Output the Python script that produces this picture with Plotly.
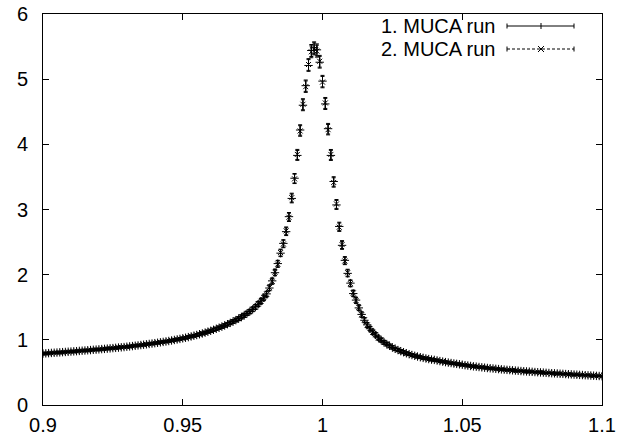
import numpy as np
import plotly.graph_objects as go

# x grid: 0.900 ... 1.100 in steps of 0.001
x_vals = np.round(np.arange(0.900, 1.1005, 0.001), 3)

y_run1 = [
    0.790, 0.793, 0.796, 0.799, 0.802, 0.805, 0.808, 0.811, 0.814, 0.817,
    0.820, 0.823, 0.826, 0.830, 0.833, 0.836, 0.840, 0.843, 0.847, 0.850,
    0.854, 0.858, 0.861, 0.865, 0.869, 0.873, 0.877, 0.881, 0.885, 0.889,
    0.894, 0.899, 0.904, 0.909, 0.914, 0.920, 0.925, 0.931, 0.937, 0.943,
    0.949, 0.955, 0.962, 0.968, 0.975, 0.982, 0.990, 0.998, 1.006, 1.014,
    1.023, 1.032, 1.042, 1.052, 1.063, 1.074, 1.086, 1.098, 1.111, 1.125,
    1.139, 1.154, 1.170, 1.186, 1.203, 1.221, 1.240, 1.260, 1.281, 1.303,
    1.326, 1.351, 1.377, 1.405, 1.435, 1.467, 1.505, 1.547, 1.594, 1.645,
    1.705, 1.795, 1.905, 2.030, 2.170, 2.330, 2.480, 2.660, 2.890, 3.170,
    3.480, 3.830, 4.220, 4.600, 4.900, 5.210, 5.440, 5.480, 5.450, 5.260,
    4.970, 4.620, 4.240, 3.830, 3.430, 3.070, 2.740, 2.450, 2.220, 2.020,
    1.870, 1.710, 1.610, 1.490, 1.390, 1.300, 1.230, 1.170, 1.120, 1.075,
    1.030, 0.995, 0.963, 0.934, 0.908, 0.884, 0.862, 0.843, 0.826, 0.810,
    0.794, 0.780, 0.767, 0.755, 0.744, 0.733, 0.723, 0.714, 0.705, 0.697,
    0.692, 0.683, 0.674, 0.666, 0.658, 0.651, 0.644, 0.637, 0.631, 0.625,
    0.618, 0.611, 0.605, 0.599, 0.593, 0.588, 0.583, 0.578, 0.573, 0.568,
    0.564, 0.560, 0.555, 0.551, 0.547, 0.543, 0.539, 0.536, 0.532, 0.528,
    0.525, 0.521, 0.518, 0.515, 0.512, 0.509, 0.506, 0.503, 0.500, 0.497,
    0.494, 0.491, 0.488, 0.486, 0.483, 0.480, 0.478, 0.475, 0.472, 0.470,
    0.467, 0.465, 0.462, 0.460, 0.457, 0.455, 0.452, 0.450, 0.447, 0.445, 0.442,
]

y_run2 = [
    0.788, 0.792, 0.795, 0.798, 0.801, 0.804, 0.807, 0.810, 0.813, 0.816,
    0.819, 0.822, 0.827, 0.829, 0.832, 0.837, 0.839, 0.844, 0.846, 0.851,
    0.853, 0.857, 0.862, 0.864, 0.870, 0.872, 0.878, 0.880, 0.886, 0.890,
    0.893, 0.900, 0.903, 0.910, 0.915, 0.919, 0.926, 0.930, 0.938, 0.942,
    0.950, 0.956, 0.961, 0.969, 0.974, 0.983, 0.989, 0.999, 1.005, 1.015,
    1.022, 1.033, 1.041, 1.053, 1.062, 1.075, 1.085, 1.099, 1.110, 1.126,
    1.138, 1.155, 1.169, 1.187, 1.202, 1.222, 1.239, 1.261, 1.280, 1.305,
    1.324, 1.353, 1.375, 1.407, 1.433, 1.469, 1.503, 1.550, 1.591, 1.649,
    1.700, 1.801, 1.898, 2.038, 2.162, 2.339, 2.471, 2.672, 2.880, 3.182,
    3.470, 3.845, 4.205, 4.615, 4.885, 5.225, 5.420, 5.465, 5.430, 5.275,
    4.955, 4.635, 4.225, 3.845, 3.415, 3.085, 2.728, 2.462, 2.210, 2.030,
    1.862, 1.718, 1.603, 1.497, 1.385, 1.306, 1.226, 1.174, 1.116, 1.079,
    1.027, 0.998, 0.960, 0.937, 0.905, 0.887, 0.859, 0.846, 0.823, 0.813,
    0.791, 0.783, 0.764, 0.758, 0.741, 0.736, 0.720, 0.717, 0.702, 0.700,
    0.689, 0.686, 0.671, 0.669, 0.655, 0.654, 0.641, 0.640, 0.628, 0.628,
    0.615, 0.614, 0.602, 0.602, 0.590, 0.591, 0.580, 0.581, 0.570, 0.571,
    0.561, 0.563, 0.552, 0.554, 0.544, 0.546, 0.536, 0.539, 0.529, 0.531,
    0.522, 0.524, 0.515, 0.518, 0.509, 0.512, 0.503, 0.506, 0.497, 0.500,
    0.491, 0.494, 0.485, 0.489, 0.480, 0.483, 0.475, 0.478, 0.469, 0.473,
    0.464, 0.468, 0.459, 0.463, 0.454, 0.458, 0.449, 0.453, 0.444, 0.448, 0.440,
]

err_run1 = [
    0.011, 0.012, 0.012, 0.011, 0.012, 0.012, 0.012, 0.011, 0.012, 0.012,
    0.012, 0.012, 0.013, 0.012, 0.012, 0.013, 0.012, 0.013, 0.013, 0.013,
    0.012, 0.013, 0.013, 0.013, 0.013, 0.014, 0.013, 0.013, 0.014, 0.014,
    0.014, 0.013, 0.014, 0.014, 0.015, 0.014, 0.015, 0.015, 0.015, 0.015,
    0.016, 0.015, 0.016, 0.016, 0.016, 0.017, 0.017, 0.017, 0.018, 0.018,
    0.018, 0.019, 0.019, 0.019, 0.020, 0.020, 0.021, 0.021, 0.022, 0.022,
    0.023, 0.023, 0.024, 0.025, 0.025, 0.026, 0.027, 0.028, 0.028, 0.029,
    0.030, 0.031, 0.032, 0.033, 0.034, 0.035, 0.036, 0.037, 0.038, 0.040,
    0.041, 0.043, 0.045, 0.047, 0.050, 0.053, 0.056, 0.060, 0.064, 0.068,
    0.072, 0.076, 0.080, 0.084, 0.087, 0.090, 0.092, 0.092, 0.091, 0.090,
    0.088, 0.085, 0.081, 0.077, 0.073, 0.069, 0.065, 0.061, 0.057, 0.053,
    0.050, 0.047, 0.044, 0.042, 0.040, 0.038, 0.036, 0.035, 0.033, 0.032,
    0.031, 0.030, 0.029, 0.028, 0.027, 0.026, 0.025, 0.025, 0.024, 0.023,
    0.023, 0.022, 0.021, 0.021, 0.020, 0.020, 0.019, 0.019, 0.018, 0.018,
    0.018, 0.017, 0.017, 0.017, 0.016, 0.016, 0.016, 0.015, 0.015, 0.015,
    0.015, 0.014, 0.014, 0.014, 0.014, 0.014, 0.013, 0.013, 0.013, 0.013,
    0.013, 0.013, 0.012, 0.012, 0.012, 0.012, 0.012, 0.012, 0.012, 0.011,
    0.011, 0.011, 0.011, 0.011, 0.011, 0.011, 0.011, 0.010, 0.010, 0.010,
    0.010, 0.010, 0.010, 0.010, 0.010, 0.010, 0.010, 0.010, 0.010, 0.010,
    0.009, 0.009, 0.009, 0.009, 0.009, 0.009, 0.009, 0.009, 0.009, 0.009, 0.009,
]

err_run2 = [
    0.012, 0.011, 0.012, 0.012, 0.012, 0.011, 0.012, 0.012, 0.012, 0.012,
    0.013, 0.012, 0.012, 0.013, 0.012, 0.012, 0.013, 0.013, 0.013, 0.012,
    0.013, 0.013, 0.013, 0.014, 0.013, 0.013, 0.014, 0.013, 0.014, 0.013,
    0.014, 0.014, 0.014, 0.015, 0.014, 0.015, 0.014, 0.015, 0.015, 0.016,
    0.015, 0.016, 0.016, 0.016, 0.017, 0.016, 0.017, 0.017, 0.018, 0.018,
    0.019, 0.018, 0.019, 0.020, 0.020, 0.021, 0.020, 0.021, 0.022, 0.023,
    0.022, 0.023, 0.024, 0.024, 0.025, 0.026, 0.027, 0.027, 0.028, 0.029,
    0.030, 0.031, 0.032, 0.033, 0.034, 0.035, 0.036, 0.038, 0.039, 0.040,
    0.042, 0.043, 0.045, 0.048, 0.050, 0.053, 0.057, 0.060, 0.064, 0.068,
    0.072, 0.077, 0.081, 0.085, 0.088, 0.090, 0.091, 0.092, 0.092, 0.090,
    0.087, 0.084, 0.080, 0.076, 0.072, 0.068, 0.064, 0.060, 0.056, 0.053,
    0.049, 0.046, 0.044, 0.041, 0.039, 0.037, 0.036, 0.034, 0.033, 0.032,
    0.030, 0.029, 0.028, 0.027, 0.027, 0.026, 0.025, 0.024, 0.024, 0.023,
    0.022, 0.022, 0.021, 0.021, 0.020, 0.019, 0.019, 0.019, 0.018, 0.018,
    0.017, 0.017, 0.017, 0.016, 0.016, 0.016, 0.015, 0.015, 0.015, 0.015,
    0.014, 0.014, 0.014, 0.014, 0.014, 0.013, 0.013, 0.013, 0.013, 0.013,
    0.013, 0.012, 0.012, 0.012, 0.012, 0.012, 0.012, 0.012, 0.011, 0.011,
    0.011, 0.011, 0.011, 0.011, 0.011, 0.011, 0.010, 0.010, 0.010, 0.010,
    0.010, 0.010, 0.010, 0.010, 0.010, 0.010, 0.010, 0.010, 0.010, 0.009,
    0.009, 0.009, 0.009, 0.009, 0.009, 0.009, 0.009, 0.009, 0.009, 0.009, 0.009,
]

series_names = ["1. MUCA run", "2. MUCA run"]
x_tick_vals = [0.9, 0.95, 1.0, 1.05, 1.1]
x_tick_text = ["0.9", "0.95", "1", "1.05", "1.1"]
y_tick_vals = [0, 1, 2, 3, 4, 5, 6]
y_tick_text = ["0", "1", "2", "3", "4", "5", "6"]

FONT = "Liberation Sans, Arial, Helvetica, sans-serif"
FSIZE = 20

fig = go.Figure()
fig.add_trace(go.Scatter(
    x=x_vals, y=y_run1, mode="markers", name=series_names[0],
    marker=dict(symbol="cross-thin", size=6, line=dict(color="black", width=1), color="black"),
    error_y=dict(type="data", array=err_run1, color="black", thickness=1, width=2),
    showlegend=False,
))
fig.add_trace(go.Scatter(
    x=x_vals, y=y_run2, mode="markers", name=series_names[1],
    marker=dict(symbol="x-thin", size=5, line=dict(color="black", width=1), color="black"),
    error_y=dict(type="data", array=err_run2, color="black", thickness=1, width=2),
    showlegend=False,
))

# Plot-area geometry in pixels (for the gnuplot-style key)
W, H = 641, 445
L, R, T, B = 43, 39, 14, 40
pw, ph = W - L - R, H - T - B

def px(xp):
    return (xp - L) / pw

def py(yp):
    return (H - B - yp) / ph

shapes = []
annotations = []
key_rows = [(26, "solid", "plus"), (49, "dash", "x")]
for (yrow, dash, mk), name in zip(key_rows, series_names):
    x0, x1, xm = 507, 574, 541
    shapes.append(dict(type="line", xref="paper", yref="paper",
                       x0=px(x0), x1=px(x1), y0=py(yrow), y1=py(yrow),
                       line=dict(color="black", width=1, dash="solid" if dash == "solid" else "3px,2px")))
    for xe in (x0, x1):
        shapes.append(dict(type="line", xref="paper", yref="paper",
                           x0=px(xe), x1=px(xe), y0=py(yrow - 2.5), y1=py(yrow + 2.5),
                           line=dict(color="black", width=1)))
    if mk == "plus":
        shapes.append(dict(type="line", xref="paper", yref="paper",
                           x0=px(xm), x1=px(xm), y0=py(yrow - 3), y1=py(yrow + 3),
                           line=dict(color="black", width=1)))
    else:
        shapes.append(dict(type="line", xref="paper", yref="paper",
                           x0=px(xm - 3), x1=px(xm + 3), y0=py(yrow - 3), y1=py(yrow + 3),
                           line=dict(color="black", width=1)))
        shapes.append(dict(type="line", xref="paper", yref="paper",
                           x0=px(xm - 3), x1=px(xm + 3), y0=py(yrow + 3), y1=py(yrow - 3),
                           line=dict(color="black", width=1)))
    annotations.append(dict(xref="paper", yref="paper", x=px(497), y=py(yrow),
                            text=name, showarrow=False, xanchor="right", yanchor="middle",
                            font=dict(family=FONT, size=FSIZE, color="black")))

axis_common = dict(
    showgrid=False, zeroline=False, showline=True, linecolor="black", linewidth=1,
    mirror="ticks", ticks="inside", ticklen=6, tickcolor="black", tickwidth=1,
    tickfont=dict(family=FONT, size=FSIZE, color="black"), automargin=False,
)

fig.update_layout(
    width=W, height=H,
    margin=dict(l=L, r=R, t=T, b=B),
    paper_bgcolor="white", plot_bgcolor="white",
    xaxis=dict(range=[0.9, 1.1], tickvals=x_tick_vals, ticktext=x_tick_text,
               ticklabelstandoff=2, **axis_common),
    yaxis=dict(range=[0, 6], tickvals=y_tick_vals, ticktext=y_tick_text,
               ticklabelstandoff=10, **axis_common),
    shapes=shapes, annotations=annotations,
    showlegend=False,
)

fig.write_html("out.html", config={"displayModeBar": False},
               post_script="document.body.style.margin='0';")
